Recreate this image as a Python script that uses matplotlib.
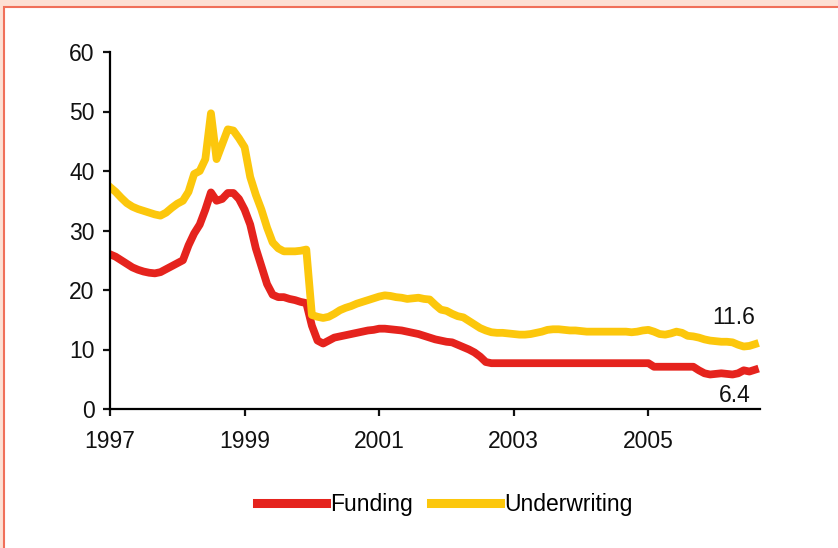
import matplotlib.pyplot as plt
import numpy as np
from matplotlib.patches import Rectangle

plt.rcParams['font.family'] = ['Liberation Sans', 'DejaVu Sans']

# monthly readings, Jan 1997 .. Aug 2006
funding = [26.0, 25.6, 25.0, 24.4, 23.8, 23.4, 23.1, 22.9, 22.8, 23.0, 23.5, 24.0,
           24.5, 25.0, 27.5, 29.5, 31.0, 33.5, 36.4, 35.0, 35.3, 36.3, 36.3, 35.3,
           33.5, 31.0, 27.0, 24.0, 21.0, 19.2, 18.8, 18.8, 18.5, 18.3, 18.0, 17.8,
           14.0, 11.5, 11.0, 11.5, 12.0, 12.2, 12.4, 12.6, 12.8, 13.0, 13.2, 13.3,
           13.5, 13.5, 13.4, 13.3, 13.2, 13.0, 12.8, 12.6, 12.3, 12.0, 11.7, 11.5,
           11.3, 11.2, 10.8, 10.4, 10.0, 9.5, 8.8, 7.9, 7.7, 7.7, 7.7, 7.7,
           7.7, 7.7, 7.7, 7.7, 7.7, 7.7, 7.7, 7.7, 7.7, 7.7, 7.7, 7.7,
           7.7, 7.7, 7.7, 7.7, 7.7, 7.7, 7.7, 7.7, 7.7, 7.7, 7.7, 7.7,
           7.7, 7.1, 7.1, 7.1, 7.1, 7.1, 7.1, 7.1, 7.1, 6.5, 6.0, 5.8,
           5.9, 6.0, 5.9, 5.8, 6.0, 6.5, 6.3, 6.6]
underwriting = [37.3, 36.5, 35.5, 34.6, 34.0, 33.6, 33.3, 33.0, 32.7, 32.5, 33.0, 33.8,
                34.5, 35.0, 36.5, 39.5, 40.0, 42.0, 49.7, 42.0, 44.5, 47.0, 46.8, 45.5,
                44.0, 39.0, 36.0, 33.5, 30.5, 28.0, 27.0, 26.5, 26.5, 26.5, 26.6, 26.8,
                15.8, 15.5, 15.3, 15.5, 16.0, 16.6, 17.0, 17.3, 17.7, 18.0, 18.3, 18.6,
                18.9, 19.1, 19.0, 18.8, 18.7, 18.5, 18.6, 18.7, 18.5, 18.4, 17.5, 16.7,
                16.5, 16.0, 15.6, 15.4, 14.8, 14.2, 13.6, 13.2, 12.9, 12.8, 12.8, 12.7,
                12.6, 12.5, 12.5, 12.6, 12.8, 13.0, 13.3, 13.4, 13.4, 13.3, 13.2, 13.2,
                13.1, 13.0, 13.0, 13.0, 13.0, 13.0, 13.0, 13.0, 13.0, 12.9, 13.0, 13.2,
                13.3, 13.0, 12.6, 12.5, 12.7, 13.0, 12.8, 12.3, 12.2, 12.0, 11.7, 11.5,
                11.4, 11.3, 11.3, 11.2, 10.8, 10.5, 10.6, 10.9]
years = 1997 + np.arange(len(funding)) / 12.0
tick_years = [1997, 1999, 2001, 2003, 2005]
last_labels = ['11.6', '6.4']

red = '#e5231d'
yellow = '#fcc70c'
fs = 16.5

fig = plt.figure(figsize=(8.38, 5.48), dpi=100, facecolor='#fde0d4')
fig.patches.append(Rectangle((4 / 838, -0.1), 1.1, (548 - 7) / 548 + 0.1,
                             transform=fig.transFigure, facecolor='white',
                             edgecolor='#f0705a', linewidth=1.5, zorder=-5))

ax = fig.add_axes([110 / 838, 1 - 409 / 548, 650 / 838, 357 / 548])
ax.set_facecolor('none')
ax.plot(years, funding, color=red, lw=5.6, label='Funding')
ax.plot(years, underwriting, color=yellow, lw=5.6, label='Underwriting')

ax.set_xlim(1997, 1997 + 650 / 67.3)
ax.set_ylim(0, 60)
ax.set_xticks(tick_years)
ax.set_yticks(range(0, 61, 10))
for s in ['top', 'right']:
    ax.spines[s].set_visible(False)
for s in ['left', 'bottom']:
    ax.spines[s].set_linewidth(1.6)
ax.tick_params(direction='out', length=5, width=1.6, labelsize=fs, colors='#111111', pad=6)
ax.tick_params(axis='x', pad=10)

ax.text(2006.58, 13.4, last_labels[0], ha='right', va='bottom', fontsize=fs, color='#111111')
ax.text(2006.52, 4.2, last_labels[1], ha='right', va='top', fontsize=fs, color='#111111')

leg = fig.legend(loc='center', bbox_to_anchor=(445 / 838, 1 - 505 / 548), ncol=2,
                 frameon=False, fontsize=fs, handlelength=3.0, handletextpad=0.2,
                 columnspacing=0.8)
for h in leg.get_lines():
    h.set_linewidth(6.5)

fig.savefig('out.png', dpi=100, facecolor=fig.get_facecolor())
